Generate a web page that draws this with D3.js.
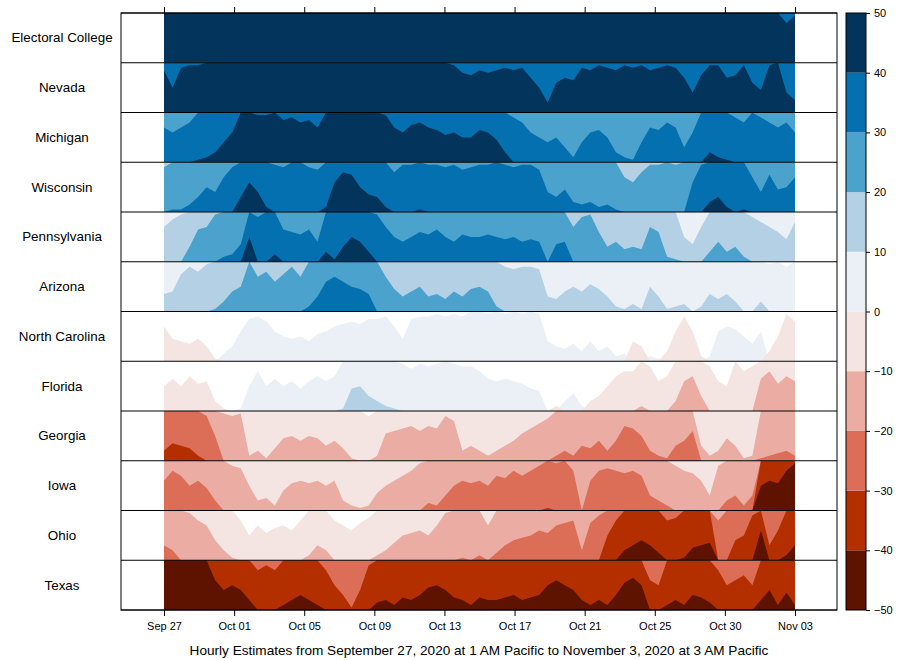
<!DOCTYPE html>
<html>
<head>
<meta charset="utf-8">
<script src="https://cdn.jsdelivr.net/npm/d3@7"></script>
<style>
  html, body { margin: 0; padding: 0; background: #fff; }
  svg { display: block; font-family: "Liberation Sans", Arial, Helvetica, sans-serif; }
</style>
</head>
<body>
<svg id="chart" width="897" height="660"></svg>
<script>
// ---------------- DATA ----------------
const states = ["Electoral College","Nevada","Michigan","Wisconsin","Pennsylvania","Arizona",
  "North Carolina","Florida","Georgia","Iowa","Ohio","Texas"];

const tickLabels = ["Sep 27","Oct 01","Oct 05","Oct 09","Oct 13","Oct 17","Oct 21","Oct 25","Oct 30","Nov 03"];

const xTitle = "Hourly Estimates from September 27, 2020 at 1 AM Pacific to November 3, 2020 at 3 AM Pacific";

const legendTicks = [50,40,30,20,10,0,-10,-20,-30,-40,-50];
const posColors = ["#eaf0f5","#b3d0e5","#4aa2cd","#0570b0","#03355c"];
const negColors = ["#f4e4e2","#eaaca3","#dc6e58","#b32f00","#5e1200"];

// half-day samples, Sep 27 -> Nov 03
const electoralCollege = [55,55,55,55,55,55,55,55,55,55,55,55,55,55,55,55,55,55,55,55,55,55,55,55,55,
  55,55,55,55,55,55,55,55,55,55,55,55,55,55,55,55,55,55,55,55,55,55,55,55,55,
  55,55,55,55,55,55,55,55,55,55,55,55,55,55,55,55,55,55,55,55,55,55,55,48,49.5];
const nevada = [48.5,45,49,49.5,49.5,51,51,51,51,51,51,51,51,51,51,51,51,51,51,51,51,51,51,51,51,
  51,51,51,51,51,51,51,51,51,49.5,48,47.5,48.5,48,48.5,49,48.5,49,47,45,42,46,47,46.5,49,
  48.5,49.5,49,48.5,49.5,49,49.5,48.5,49,49.5,49,47,44,47.5,49.5,49.5,47,47.5,49.5,46,44.5,49.5,50,44,42.5];
const michigan = [37,36,37,38,40.5,41,42,44,46,50,50,49.5,49.5,50,48.5,49,48,48.5,47,50,50,50,50,50,50,
  50,49.5,47,46,47.5,48,47,46.5,45.5,46,45,45,46.5,46,44.5,42,39,38,36,35,34,35,33,31,34,
  36,36.5,35,32,31,30.5,34,37,36.5,38,37,33,36,40,42,41,40.5,39,38,40,39,38,37,38,36];
const wisconsin = [29,30.5,30.5,31.5,33,35,34,37,39,43,46,44,41,39.5,39,40,40,39,38.5,41,46,48,47.5,45,43.5,
  43,41,38,39.5,39.5,40.5,39.5,39.5,39,39.5,38.5,39,39.5,39.5,40,39.5,39,39.5,39.5,38.5,34,33,34.5,32,31.5,
  32,31,31.5,30.5,27,26,28,29.5,29.5,30,29.5,30,36,39.5,42,43,41,40,40.5,37,34,37.5,34.5,35,37];
const pennsylvania = [17,18.5,19.5,23,26.5,27,29.5,31,31.5,33.5,45,39,40,41.5,36.5,36,35.5,36.5,34,42,40.5,43,45,44,42,
  39.5,37,35,34,35,36,35.5,36.5,35,34,35.5,35,35,35.5,35,34.5,35,34,34.5,34,30,33.5,34,27,29,
  29.5,26,23,24,22.5,23,22.5,27,26,21,20.5,15,13.5,17,22,24,22,23,21,19,18,17,16,14.5,18];
const arizona = [13.5,14,17.5,19,18,19.5,20.5,22,24,25,30,27,28,26,27.5,29,27,31,33,36,37,36,35,34.5,33.5,
  30,27,24.5,23,24,25,23,23.5,22.5,24,23,24.5,25,24,21,19,18.5,19,19,18.5,13,12.5,14,15,14,
  15.5,14.5,13,11,10.5,11.5,10.5,15,13,10.5,11,11.5,10,11,13.5,12.5,13.5,12,10,10,12,9.5,10,9,10];
const northCarolina = [-7,-4.5,-4,-3.5,-4.5,-3,-0.5,1.5,3,6,8.5,9,8,6,5,4.5,5,4,5.5,6,7,7.5,8,7.5,8.5,
  8.5,9,7,4.5,8.5,9,9,9.5,9,9.5,9,10,10,9.5,10,9.5,10,9.5,10,9.5,4,3,2.5,3.5,2,
  4,2,3,1,1.5,-4,-3,1,0.5,-2,-6,-9,-6,-1,1,6,7,6.5,5,3.5,6,-2,-5,-9.5,-8];
const florida = [-5,-6.5,-5,-7,-5.5,-6,-2,-0.5,0,0.5,5,8,5,6.5,5,6,4.5,6,7,6,7,10.5,14.5,15,13,
  12,11,10.5,9.5,8.5,9.5,9,9.5,10,9.5,9,9,8,6.5,6,6.5,6,5.5,4.5,4,0,-1,2,3.5,1,
  -2,-3,-5,-7,-8,-8,-11,-9,-6,-7,-12,-16,-17,-13,-9,-6,-5,-10,-8,-9,-16.5,-18,-15.5,-17,-16];
const georgia = [-32,-33.5,-33,-32.5,-31,-29,-25,-19.5,-19,-19.5,-11,-12,-10.5,-12.5,-14.5,-15,-14,-15,-14.5,-13,-14,-12.5,-10.5,-10,-9,
  -11,-15.5,-16,-16.5,-17,-16,-17,-16.5,-19,-18,-12,-13,-12,-11,-12,-13,-14,-15.5,-16.5,-17.5,-18.5,-21,-22,-21,-23,
  -22.5,-24,-22,-24,-27,-26.5,-25,-22,-21,-20.5,-23,-24,-26,-13,-11,-12,-14.5,-13,-10.5,-11,-20.5,-21,-21.5,-22,-21];
const iowa = [-26,-28,-27,-25,-26,-24.5,-22,-20,-19,-18.5,-15,-12,-12.5,-11,-14,-15.5,-16,-15.5,-16,-15,-16,-12,-11,-10.5,-11,
  -13.5,-15,-16,-17,-18,-19.5,-21.5,-21,-23,-25,-26,-25.5,-26,-25,-27,-26.5,-28,-27,-28,-29,-30.5,-29.5,-30,-28,-20,
  -26,-28,-28.5,-28,-27.5,-28,-27,-23,-22,-21,-19,-18,-17.5,-16,-13,-19,-22,-23,-21,-23,-45,-46,-45.5,-48,-49.5];
const ohio = [-23,-22,-20,-19.5,-18,-17,-14,-12,-10.5,-8,-5,-7,-5.5,-6.5,-7,-6,-8,-11,-13,-12,-8,-7,-6,-7.5,-8.5,
  -11,-12,-13.5,-15,-15.5,-16,-15,-17,-19.5,-20,-20.5,-20,-21,-17,-21.5,-23,-24,-24.5,-25,-26,-25.5,-27,-27.5,-28,-22,
  -27.5,-29,-35,-38,-42,-43,-44,-43,-41.5,-38,-38.5,-40.5,-42.5,-43,-43.5,-28,-30,-34,-35,-39,-46,-33,-36,-41,-43];
const texas = [-51,-50.5,-51,-50,-50.5,-50,-46,-44,-45,-44,-42,-38,-39,-38,-41,-42,-43,-42,-41,-38,-35,-33,-30.5,-34,-39,
  -41.5,-42,-41,-42.5,-42,-43,-44.5,-45,-44,-42.5,-42,-41,-42.5,-42,-42,-42.5,-43,-42,-42.5,-43,-45,-46,-45,-44,-42,
  -41,-42,-41,-43,-45.5,-46.5,-45,-36,-35,-41,-42,-41,-43,-42.5,-41.5,-38,-35,-36,-37,-35,-42,-44,-41,-43.5,-41];

const series = [electoralCollege, nevada, michigan, wisconsin, pennsylvania, arizona,
  northCarolina, florida, georgia, iowa, ohio, texas];

// ---------------- LAYOUT ----------------
const svg = d3.select("#chart");
const frame = {left: 121, right: 837, top: 13, bottom: 610};
const dataX0 = 164, dataX1 = 795;
const N = electoralCollege.length;
const rowH = (frame.bottom - frame.top) / states.length;

const x = d3.scaleLinear().domain([0, N - 1]).range([dataX0, dataX1]);
const bandY = d3.scaleLinear().domain([0, 10]).range([rowH, 0]).clamp(true);

const defs = svg.append("defs");

states.forEach((name, r) => {
  const vals = series[r];
  const y0 = frame.top + r * rowH;
  defs.append("clipPath").attr("id", "clip" + r)
    .append("rect").attr("x", frame.left).attr("y", 0).attr("width", frame.right - frame.left).attr("height", rowH);
  const g = svg.append("g").attr("transform", `translate(0,${y0})`).attr("clip-path", `url(#clip${r})`);
  for (let b = 0; b < 5; b++) {
    const ap = d3.area()
      .x((d, i) => x(i))
      .y0(rowH)
      .y1(d => bandY(Math.max(0, d - 10 * b)));
    g.append("path").datum(vals).attr("d", ap).attr("fill", posColors[b]);
    const an = d3.area()
      .x((d, i) => x(i))
      .y0(rowH)
      .y1(d => bandY(Math.max(0, -d - 10 * b)));
    g.append("path").datum(vals).attr("d", an).attr("fill", negColors[b]);
  }
  svg.append("text")
    .attr("x", 62).attr("y", y0 + rowH / 2)
    .attr("text-anchor", "middle").attr("dominant-baseline", "central")
    .attr("font-size", 13.4).attr("fill", "#000")
    .text(name);
});

// row separators
svg.append("g").selectAll("line").data(d3.range(states.length + 1)).join("line")
  .attr("x1", frame.left).attr("x2", frame.right)
  .attr("y1", d => frame.top + d * rowH).attr("y2", d => frame.top + d * rowH)
  .attr("stroke", "#000").attr("stroke-width", 1);

// frame
svg.append("rect").attr("x", frame.left).attr("y", frame.top)
  .attr("width", frame.right - frame.left).attr("height", frame.bottom - frame.top)
  .attr("fill", "none").attr("stroke", "#000").attr("stroke-width", 1);

// axes
const step = (N - 1) / (tickLabels.length - 1);
const tickVals = tickLabels.map((d, k) => k * step);
const fmt = (d) => tickLabels[Math.round(d / step)];
const xAxisB = d3.axisBottom(x).tickValues(tickVals).tickFormat(fmt).tickSize(6).tickSizeOuter(0).tickPadding(6);
const gxb = svg.append("g").attr("transform", `translate(0,${frame.bottom})`).call(xAxisB);
gxb.select(".domain").remove();
gxb.selectAll("text").attr("font-size", 11).attr("font-family", "Liberation Sans, Arial, sans-serif").attr("fill", "#000");
gxb.selectAll("line").attr("stroke", "#000");

const xAxisT = d3.axisTop(x).tickValues(tickVals).tickFormat("").tickSize(6).tickSizeOuter(0);
const gxt = svg.append("g").attr("transform", `translate(0,${frame.top})`).call(xAxisT);
gxt.select(".domain").remove();
gxt.selectAll("line").attr("stroke", "#000");

svg.append("text").attr("x", 479).attr("y", 655)
  .attr("text-anchor", "middle").attr("font-size", 13.6).attr("fill", "#000")
  .text(xTitle);

// legend
const lg = {x: 846, w: 20, top: 13, bottom: 610};
const ly = d3.scaleLinear().domain([-50, 50]).range([lg.bottom, lg.top]);
const legendBands = d3.range(10).map(k => ({lo: -50 + 10 * k, hi: -40 + 10 * k}));
const legendColors = negColors.slice().reverse().concat(posColors);
svg.append("g").selectAll("rect").data(legendBands).join("rect")
  .attr("x", lg.x).attr("width", lg.w)
  .attr("y", d => ly(d.hi)).attr("height", d => ly(d.lo) - ly(d.hi))
  .attr("fill", (d, i) => legendColors[i]);
svg.append("rect").attr("x", lg.x).attr("y", lg.top).attr("width", lg.w).attr("height", lg.bottom - lg.top)
  .attr("fill", "none").attr("stroke", "#000").attr("stroke-width", 1);
const lAxis = d3.axisRight(ly).tickValues(legendTicks).tickSize(4).tickPadding(4).tickSizeOuter(0);
const gl = svg.append("g").attr("transform", `translate(${lg.x + lg.w},0)`).call(lAxis);
gl.select(".domain").remove();
gl.selectAll("text").attr("font-size", 11).attr("font-family", "Liberation Sans, Arial, sans-serif").attr("fill", "#000");
gl.selectAll("line").attr("stroke", "#000");
</script>
</body>
</html>
